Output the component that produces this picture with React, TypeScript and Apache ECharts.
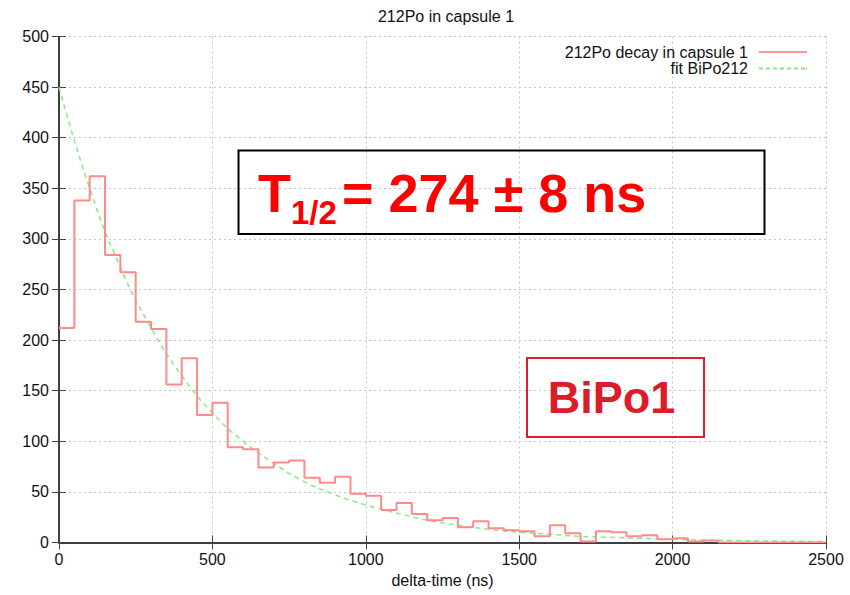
import React, { useEffect, useRef } from "react";
import * as echarts from "echarts";

const FONT = '"Liberation Sans", Arial, Helvetica, sans-serif';

// Histogram bin left edges (ns) and counts
const binStarts = [
  0, 50, 100, 150, 200, 250, 300, 350, 400, 450,
  500, 550, 600, 650, 700, 750, 800, 850, 900, 950,
  1000, 1050, 1100, 1150, 1200, 1250, 1300, 1350, 1400, 1450,
  1500, 1550, 1600, 1650, 1700, 1750, 1800, 1850, 1900, 1950,
  2000, 2050, 2100, 2150, 2200, 2250, 2300, 2350, 2400, 2450, 2500,
];
const counts = [
  212, 338, 362, 284, 267, 218, 211, 156, 182, 126,
  138, 94, 92, 74, 79, 81, 64, 59, 65, 48,
  46, 32, 39, 28, 22, 24, 15, 21, 14, 12,
  11, 6, 17, 9, 1, 11, 10, 6, 7, 3,
  4, 1, 2, 0, 0, 0, 0, 0, 0, 0, 0,
];

// Fit curve
const fitTimes = [0, 100, 200, 300, 400, 500, 600, 700, 800, 900, 1000, 1100, 1200, 1300, 1400, 1500, 1600, 1700, 1800, 1900, 2000, 2100, 2200, 2300, 2400, 2500];
const fitValues = [450, 350, 272, 212, 165, 128, 100, 78, 60, 47, 37, 29, 22, 17, 13, 10, 8, 6, 5, 4, 3, 2.3, 1.8, 1.4, 1.1, 0.8];

const xTicks = { min: 0, max: 2500, interval: 500 };
const yTicks = { min: 0, max: 500, interval: 50 };

const histName = "212Po decay in capsule 1";
const fitName = "fit BiPo212";
const titleText = "212Po in capsule 1";
const xName = "delta-time (ns)";

const HIST_COLOR = "#ff8a8a";
const FIT_COLOR = "#86ea86";

const SOLID_ICON = "path://M0,0h48v2h-48z";
const DASH_ICON =
  "path://M0,0h4v2h-4z M7,0h4v2h-4z M14,0h4v2h-4z M21,0h4v2h-4z M28,0h4v2h-4z M35,0h4v2h-4z M42,0h4v2h-4z M47,0h1v2h-1z";

export default function App() {
  const ref = useRef<HTMLDivElement>(null);
  useEffect(() => {
    if (!ref.current) return;
    const chart = echarts.init(ref.current, undefined, { renderer: "svg" });
    const axisLine = { show: true, lineStyle: { color: "#333", width: 1.5 } };
    const axisTick = { show: true, inside: true, length: 7, lineStyle: { color: "#444", width: 1 } };
    const labelStyle = { color: "#111", fontFamily: FONT, fontSize: 16, formatter: (v: number) => String(v) };
    const gridLine = { show: true, lineStyle: { color: "#c4c4c4", type: [2, 3], width: 1 } };
    const legendText = { fontFamily: FONT, fontSize: 16, color: "#111", padding: [0, 6, 0, 0] };
    chart.setOption({
      animation: false,
      backgroundColor: "#fff",
      title: {
        text: titleText,
        left: 441,
        top: 3,
        textAlign: "center",
        textStyle: { fontFamily: FONT, fontSize: 16, fontWeight: "normal", color: "#111" },
      },
      legend: [
        {
          data: [{ name: histName, icon: SOLID_ICON }],
          right: 43,
          top: 44,
          padding: 0,
          align: "right",
          itemWidth: 48,
          itemHeight: 2,
          itemStyle: { color: HIST_COLOR, opacity: 0.9 },
          textStyle: legendText,
        },
        {
          data: [{ name: fitName, icon: DASH_ICON }],
          right: 43,
          top: 60.5,
          padding: 0,
          align: "right",
          itemWidth: 48,
          itemHeight: 2,
          itemStyle: { color: FIT_COLOR },
          textStyle: legendText,
        },
      ],
      grid: { left: 59, right: 24, top: 36.5, bottom: 52.6 },
      xAxis: [
        {
          type: "value",
          ...xTicks,
          name: xName,
          nameLocation: "middle",
          nameGap: 29,
          nameTextStyle: { fontFamily: FONT, fontSize: 16, color: "#111" },
          axisLine,
          axisTick,
          axisLabel: { ...labelStyle, margin: 9 },
          splitLine: gridLine,
        },
        {
          type: "value",
          ...xTicks,
          position: "top",
          axisLine,
          axisTick,
          axisLabel: { show: false },
          splitLine: { show: false },
        },
      ],
      yAxis: [
        {
          type: "value",
          ...yTicks,
          axisLine,
          axisTick,
          axisLabel: { ...labelStyle, margin: 10 },
          splitLine: gridLine,
        },
        {
          type: "value",
          ...yTicks,
          position: "right",
          axisLine,
          axisTick,
          axisLabel: { show: false },
          splitLine: { show: false },
        },
      ],
      series: [
        {
          name: histName,
          type: "line",
          step: "end",
          symbol: "none",
          data: binStarts.map((x, i) => [x, counts[i]]),
          lineStyle: { color: HIST_COLOR, width: 2 },
          itemStyle: { color: HIST_COLOR },
          z: 3,
        },
        {
          name: fitName,
          type: "line",
          smooth: true,
          symbol: "none",
          data: fitTimes.map((x, i) => [x, fitValues[i]]),
          lineStyle: { color: FIT_COLOR, width: 1.5, type: [5, 4] },
          itemStyle: { color: FIT_COLOR },
          z: 2,
        },
      ],
      graphic: [
        {
          type: "rect",
          shape: { x: 238.5, y: 150.5, width: 526, height: 83.5 },
          style: { fill: "none", stroke: "#000", lineWidth: 2 },
          z: 10,
        },
        {
          type: "text",
          x: 258,
          y: 193,
          style: { text: "T", font: `bold 54px ${FONT}`, fill: "#ff0000", verticalAlign: "middle", align: "left" },
          z: 10,
        },
        {
          type: "text",
          x: 291,
          y: 212,
          style: { text: "1/2", font: `bold 33px ${FONT}`, fill: "#ff0000", verticalAlign: "middle", align: "left" },
          z: 10,
        },
        {
          type: "text",
          x: 342,
          y: 193,
          style: { text: "= 274 ± 8 ns", font: `bold 54px ${FONT}`, fill: "#ff0000", verticalAlign: "middle", align: "left" },
          z: 10,
        },
        {
          type: "rect",
          shape: { x: 527, y: 358, width: 177, height: 79 },
          style: { fill: "none", stroke: "#de1f2a", lineWidth: 2 },
          z: 10,
        },
        {
          type: "text",
          x: 611.5,
          y: 397,
          style: { text: "BiPo1", font: `bold 45px ${FONT}`, fill: "#dc1c28", verticalAlign: "middle", align: "center" },
          z: 10,
        },
      ],
    });
    return () => chart.dispose();
  }, []);
  return <div ref={ref} style={{ width: 850, height: 595, position: "absolute", left: 0, top: 0 }} />;
}
